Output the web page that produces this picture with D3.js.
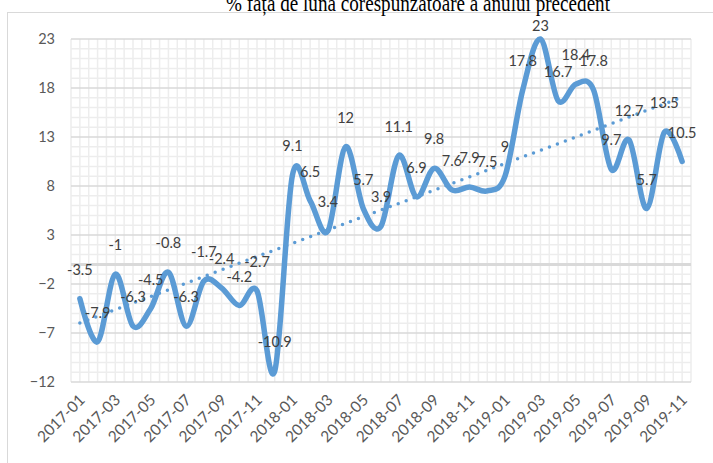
<!DOCTYPE html>
<html>
<head>
<meta charset="utf-8">
<script src="https://cdn.jsdelivr.net/npm/d3@7"></script>
<style>
  body { margin: 0; background: #fff; }
  svg { display: block; }
</style>
</head>
<body>
<svg id="chart" width="713" height="463"></svg>
<script>
  // chart data
  var months = [
    '2017-01', '2017-02', '2017-03', '2017-04', '2017-05', '2017-06',
    '2017-07', '2017-08', '2017-09', '2017-10', '2017-11', '2017-12',
    '2018-01', '2018-02', '2018-03', '2018-04', '2018-05', '2018-06',
    '2018-07', '2018-08', '2018-09', '2018-10', '2018-11', '2018-12',
    '2019-01', '2019-02', '2019-03', '2019-04', '2019-05', '2019-06',
    '2019-07', '2019-08', '2019-09', '2019-10', '2019-11'
  ];
  var values = [
    -3.5, -7.9, -1, -6.3, -4.5, -0.8, -6.3, -1.7, -2.4, -4.2, -2.7, -10.9,
    9.1, 6.5, 3.4, 12, 5.7, 3.9, 11.1, 6.9, 9.8, 7.6, 7.9, 7.5,
    9, 17.8, 23, 16.7, 18.4, 17.8, 9.7, 12.7, 5.7, 13.5, 10.5
  ];
  var yTicks = [-12, -7, -2, 3, 8, 13, 18, 23];
  var xTickLabels = months.filter(function (d, i) { return i % 2 === 0; });
  var title = '% față de luna corespunzătoare a anului precedent';

  var blue = '#5b9bd5',
      font = 'Lato, "Open Sans", sans-serif';

  var svg = d3.select('#chart');

  var x = d3.scaleBand().domain(months).range([71, 691]),
      y = d3.scaleLinear().domain([-12, 23]).range([382, 39]);

  function cx(d) { return x(d) + x.bandwidth() / 2; }

  // chart frame
  svg.append('rect')
      .attr('x', 7.5).attr('y', 12.5)
      .attr('width', 730).attr('height', 480)
      .attr('fill', '#fff')
      .attr('stroke', '#d9d9d9');

  // title, cut off at the top edge as in the source
  svg.append('text')
      .attr('x', 418).attr('y', 10.5)
      .attr('text-anchor', 'middle')
      .attr('textLength', 384)
      .attr('lengthAdjust', 'spacingAndGlyphs')
      .style('font', '24px "Liberation Serif", "Times New Roman", serif')
      .style('fill', '#000')
      .text(title);

  // grid
  var grid = svg.append('g').attr('class', 'grid');

  grid.selectAll('line.vminor')
      .data(d3.range(0, months.length * 2 + 1))
      .enter().append('line')
      .attr('class', 'vminor')
      .attr('x1', function (k) { return 71 + k * x.bandwidth() / 2; })
      .attr('x2', function (k) { return 71 + k * x.bandwidth() / 2; })
      .attr('y1', y(23)).attr('y2', y(-12))
      .attr('stroke', '#ededed')
      .attr('stroke-width', 1.5);

  grid.selectAll('line.hminor')
      .data(d3.range(-12, 24))
      .enter().append('line')
      .attr('class', 'hminor')
      .attr('x1', 71).attr('x2', 691)
      .attr('y1', function (d) { return y(d); })
      .attr('y2', function (d) { return y(d); })
      .attr('stroke', function (d) { return yTicks.indexOf(d) >= 0 ? '#d9d9d9' : '#ededed'; })
      .attr('stroke-width', 1.5);

  // zero axis line
  svg.append('line')
      .attr('x1', 71).attr('x2', 691)
      .attr('y1', y(0)).attr('y2', y(0))
      .attr('stroke', '#d9d9d9')
      .attr('stroke-width', 3);

  // y axis labels
  var yAxis = svg.append('g')
      .attr('transform', 'translate(55,0)')
      .call(d3.axisLeft(y).tickValues(yTicks).tickSize(0).tickPadding(0));
  yAxis.select('.domain').remove();
  yAxis.selectAll('text')
      .style('font', '14.5px ' + font)
      .style('fill', '#595959');

  // x axis labels, rotated
  var xAxis = svg.append('g')
      .attr('transform', 'translate(0,' + y(-12) + ')')
      .call(d3.axisBottom(x).tickValues(xTickLabels).tickSize(0).tickPadding(0));
  xAxis.select('.domain').remove();
  xAxis.selectAll('text')
      .attr('text-anchor', 'end')
      .attr('dy', null)
      .attr('y', 0)
      .attr('transform', 'translate(6,19) rotate(-45)')
      .style('font', '15.5px ' + font)
      .style('fill', '#595959');

  // linear trendline
  var n = values.length,
      xs = d3.range(n),
      mx = d3.mean(xs),
      my = d3.mean(values),
      slope = d3.sum(xs, function (i) { return (i - mx) * (values[i] - my); }) /
              d3.sum(xs, function (i) { return (i - mx) * (i - mx); }),
      icpt = my - slope * mx;

  svg.append('line')
      .attr('x1', cx(months[0])).attr('y1', y(icpt))
      .attr('x2', cx(months[n - 1])).attr('y2', y(icpt + slope * (n - 1)))
      .attr('stroke', blue)
      .attr('stroke-width', 3.5)
      .attr('stroke-linecap', 'round')
      .attr('stroke-dasharray', '0 8.5');

  // main series
  var line = d3.line()
      .x(function (d, i) { return cx(months[i]); })
      .y(function (d) { return y(d); })
      .curve(d3.curveCardinal.tension(0));

  svg.append('path')
      .datum(values)
      .attr('d', line)
      .attr('fill', 'none')
      .attr('stroke', blue)
      .attr('stroke-width', 5.5)
      .attr('stroke-linejoin', 'round')
      .attr('stroke-linecap', 'round');

  // data labels
  svg.append('g').selectAll('text')
      .data(values)
      .enter().append('text')
      .attr('x', function (d, i) { return cx(months[i]); })
      .attr('y', function (d) { return Math.max(26, y(d) - 29); })
      .attr('dy', '0.35em')
      .attr('text-anchor', 'middle')
      .style('font', '14.5px ' + font)
      .style('fill', '#404040')
      .text(function (d) { return d; });
</script>
</body>
</html>
